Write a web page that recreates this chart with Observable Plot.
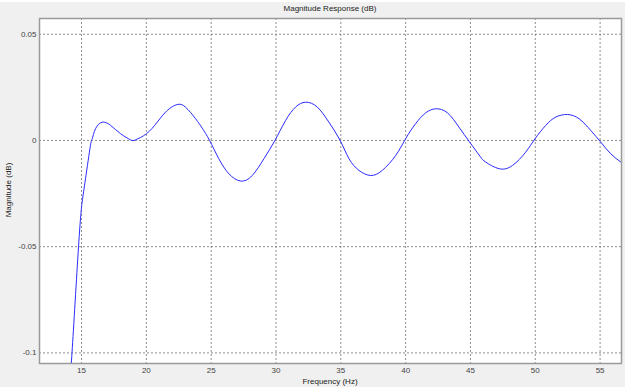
<!DOCTYPE html>
<html>
<head>
<meta charset="utf-8">
<script src="https://cdn.jsdelivr.net/npm/d3@7"></script>
<script src="https://cdn.jsdelivr.net/npm/@observablehq/plot@0.6"></script>
<style>
  html, body { margin: 0; padding: 0; background: #ffffff; width: 628px; height: 390px; overflow: hidden; }
  #bg { position: absolute; left: 0; top: 2px; width: 625px; height: 385px; background: #f0f0f0; }
  #chart { position: absolute; left: 0; top: 0; }
  .lbl { position: absolute; font-family: "Liberation Sans", Arial, sans-serif; font-size: 8px; color: #222; white-space: nowrap; }
  #title { left: 0; width: 660px; top: 4px; text-align: center; }
  #xlabel { left: 0; width: 660px; top: 377px; text-align: center; }
  #ylabel { left: 8px; top: 190px; transform: translate(-50%, -50%) rotate(-90deg); }
</style>
</head>
<body>
<div id="bg"></div>
<div id="chart"></div>
<div class="lbl" id="title">Magnitude Response (dB)</div>
<div class="lbl" id="xlabel">Frequency (Hz)</div>
<div class="lbl" id="ylabel">Magnitude (dB)</div>
<script>
const titleText = "Magnitude Response (dB)";
const xLabelText = "Frequency (Hz)";
const yLabelText = "Magnitude (dB)";

const xTicks = [15, 20, 25, 30, 35, 40, 45, 50, 55];
const yTicks = [-0.1, -0.05, 0, 0.05];

const freq = [14.17, 14.27, 14.77, 15.05, 15.31, 15.69, 15.83, 16.08, 16.60, 17.24, 18.01, 18.78, 19.17,
  20.02, 20.84, 21.61, 22.38, 23.02, 23.80, 24.31, 24.88, 25.59, 26.37, 27.27, 28.17, 29.07, 29.92,
  30.74, 31.51, 32.29, 33.19, 34.08, 34.95, 35.63, 36.40, 37.30, 38.20, 39.23, 40.00, 40.77, 41.55,
  42.32, 43.22, 44.11, 44.94, 45.74, 46.18, 47.20, 48.24, 49.26, 49.98, 50.81, 51.58, 52.48, 53.38,
  54.28, 55.05, 55.82, 56.65];
const mag = [-0.1048, -0.0997, -0.0500, -0.0290, -0.0180, -0.0024, 0.0008, 0.0055, 0.0086, 0.0071, 0.0032, 0.0003, 0.0003,
  0.0032, 0.0086, 0.0141, 0.0169, 0.0157, 0.0102, 0.0058, 0.0000, -0.0086, -0.0157, -0.0191, -0.0165, -0.0086, 0.0000,
  0.0094, 0.0157, 0.0180, 0.0157, 0.0086, 0.0000, -0.0086, -0.0141, -0.0165, -0.0141, -0.0071, 0.0008, 0.0079, 0.0130,
  0.0149, 0.0130, 0.0063, -0.0008, -0.0075, -0.0102, -0.0133, -0.0118, -0.0055, 0.0008, 0.0071, 0.0110, 0.0122, 0.0102,
  0.0047, -0.0008, -0.0063, -0.0104];

const data = freq.map((f, i) => ({f, m: mag[i]}));

const chart = Plot.plot({
  width: 628,
  height: 390,
  marginLeft: 39,
  marginRight: 7,
  marginTop: 18,
  marginBottom: 27,
  style: { background: "transparent", fontFamily: "Liberation Sans, Arial, sans-serif", fontSize: "8px", color: "#444" },
  x: { domain: [11.76, 56.65], ticks: xTicks, tickFormat: d => String(d), label: null, tickSize: 0, tickPadding: 4 },
  y: { domain: [-0.105, 0.0574], ticks: yTicks, tickFormat: d => String(d), label: null, tickSize: 0, tickPadding: 3 },
  marks: [
    Plot.frame({fill: "white", stroke: null}),
    Plot.gridX(xTicks, {stroke: "#7a7a7a", strokeOpacity: 0.85, strokeDasharray: "2,2"}),
    Plot.gridY(yTicks, {stroke: "#7a7a7a", strokeOpacity: 0.85, strokeDasharray: "2,2"}),
    Plot.line(data, {x: "f", y: "m", stroke: "#2a2aff", strokeWidth: 1, curve: "natural", clip: true}),
    Plot.frame({stroke: "#9a9a9a", strokeWidth: 1.5}),
    Plot.axisX(xTicks, {tickSize: 0, tickPadding: 4, tickFormat: d => String(d), fill: "#444"}),
    Plot.axisY(yTicks, {tickSize: 0, tickPadding: 3, tickFormat: d => String(d), fill: "#444"})
  ]
});
document.getElementById("chart").appendChild(chart);
</script>
</body>
</html>
